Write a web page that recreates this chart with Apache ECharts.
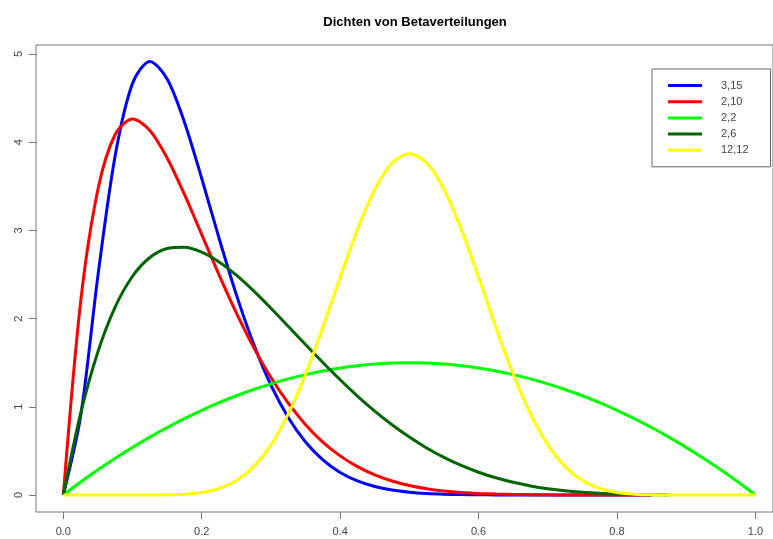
<!DOCTYPE html>
<html>
<head>
<meta charset="utf-8">
<script src="https://cdn.jsdelivr.net/npm/echarts@6/dist/echarts.min.js"></script>
<style>
html,body{margin:0;padding:0;background:#fff;}
#chart{width:773px;height:539px;}
</style>
</head>
<body>
<div id="chart"></div>
<script>
var titleText = 'Dichten von Betaverteilungen';
var seriesNames = ['3,15', '2,10', '2,2', '2,6', '12,12'];
var seriesColors = ['#0000FF', '#FF0000', '#00FF00', '#006400', '#FFFF00'];
var xTicks = [0, 0.2, 0.4, 0.6, 0.8, 1.0];
var yTicks = [0, 1, 2, 3, 4, 5];

var xs = [0, 0.025, 0.05, 0.075, 0.1, 0.125, 0.15, 0.175, 0.2, 0.225, 0.25, 0.275, 0.3, 0.325, 0.35, 0.375, 0.4, 0.425, 0.45, 0.475, 0.5,
  0.525, 0.55, 0.575, 0.6, 0.625, 0.65, 0.675, 0.7, 0.725, 0.75, 0.775, 0.8, 0.825, 0.85, 0.875, 0.9, 0.925, 0.95, 0.975, 1.0];

var beta_3_15 = [0, 0.8945, 2.4873, 3.8525, 4.6669, 4.9160, 4.7171, 4.2271, 3.5888, 2.9121, 2.2718, 1.7104, 1.2454, 0.8785, 0.6008, 0.3983, 0.2558, 0.1592, 0.0958, 0.0556, 0.0311,
  0.0167, 0.0086, 0.0042, 0.0020, 0.0009, 0.0004, 0.0002, 0.0001, 0, 0, 0, 0, 0, 0];
var beta_2_10 = [0, 2.1897, 3.4664, 4.0901, 4.2616, 4.1339, 3.8217, 3.4082, 2.9528, 2.4961, 2.0648, 1.6740, 1.3317, 1.0402, 0.7974, 0.6003, 0.4434, 0.3213, 0.2280, 0.1583, 0.1074,
  0.0711, 0.0458, 0.0286, 0.0173, 0.0101, 0.0056, 0.0030, 0.0015, 0.0007, 0.0003, 0.0001, 0, 0, 0];
var beta_2_2 = [0, 0.1463, 0.285, 0.4163, 0.54, 0.6563, 0.765, 0.8663, 0.96, 1.0463, 1.125, 1.1963, 1.26, 1.3163, 1.365, 1.4063, 1.44, 1.4663, 1.485, 1.4963, 1.5,
  1.4963, 1.485, 1.4663, 1.44, 1.4063, 1.365, 1.3163, 1.26, 1.1963, 1.125, 1.0463, 0.96, 0.8663, 0.765, 0.6563, 0.54, 0.4163, 0.285, 0.1463, 0];
var beta_2_6 = [0, 0.9252, 1.6249, 2.1332, 2.4801, 2.6928, 2.7954, 2.8089, 2.7525, 2.6419, 2.4917, 2.3134, 2.1177, 1.9128, 1.7056, 1.5020, 1.3064, 1.1220, 0.9512, 0.7957, 0.6563,
  0.5332, 0.4263, 0.3349, 0.2580, 0.1947, 0.1434, 0.1028, 0.0714, 0.0476, 0.0308, 0.0188, 0.0108, 0.0057, 0.0027, 0.0011];
var beta_12_12 = [0, 0, 0, 0, 0.0001, 0.0004, 0.0023, 0.0092, 0.0286, 0.0735, 0.1634, 0.3211, 0.5684, 0.9189, 1.3709, 1.9020, 2.4691, 3.0118, 3.4635, 3.7633, 3.8684,
  3.7633, 3.4635, 3.0118, 2.4691, 1.9020, 1.3709, 0.9189, 0.5684, 0.3211, 0.1634, 0.0735, 0.0286, 0.0092, 0.0023, 0.0004, 0.0001, 0, 0, 0, 0];

var seriesValues = [beta_3_15, beta_2_10, beta_2_2, beta_2_6, beta_12_12];

function pairs(vals) {
  var out = [];
  for (var i = 0; i < vals.length; i++) out.push([xs[i], vals[i]]);
  return out;
}

var chart = echarts.init(document.getElementById('chart'), null, {renderer: 'canvas'});
var series = seriesNames.map(function (name, i) {
  return {
    name: name,
    type: 'line',
    data: pairs(seriesValues[i]),
    symbol: 'none',
    smooth: 0.3,
    lineStyle: {color: seriesColors[i], width: 3},
    itemStyle: {color: seriesColors[i]},
    z: 2 + i,
    animation: false
  };
});

chart.setOption({
  animation: false,
  backgroundColor: '#ffffff',
  title: {
    text: titleText,
    left: 410,
    textAlign: 'center',
    top: 11,
    textStyle: {fontFamily: 'Liberation Sans, Arial, sans-serif', fontSize: 13, fontWeight: 'bold', color: '#000'}
  },
  legend: {
    data: seriesNames,
    orient: 'vertical',
    left: 652,
    top: 69,
    icon: 'rect',
    itemWidth: 34,
    itemHeight: 3,
    itemGap: 5.2,
    padding: [11, 22, 11, 16],
    borderColor: '#666',
    borderWidth: 1,
    backgroundColor: '#fff',
    textStyle: {fontFamily: 'Liberation Sans, Arial, sans-serif', fontSize: 11, color: '#444', padding: [0, 0, 0, 14]}
  },
  grid: {
    left: 36, top: 45, right: 0, bottom: 27,
    show: true, borderColor: '#777', borderWidth: 1, backgroundColor: 'transparent'
  },
  xAxis: {
    type: 'value',
    min: -0.0395,
    max: 1.0255,
    position: 'bottom',
    axisLine: {show: false, onZero: false},
    splitLine: {show: false},
    axisTick: {show: true, inside: false, length: 7, customValues: xTicks, lineStyle: {color: '#777'}},
    axisLabel: {
      customValues: xTicks, margin: 14,
      formatter: function (v) { return v.toFixed(1); },
      fontFamily: 'Liberation Sans, Arial, sans-serif', fontSize: 11, color: '#444'
    }
  },
  yAxis: {
    type: 'value',
    min: -0.193,
    max: 5.102,
    position: 'left',
    axisLine: {show: false, onZero: false},
    splitLine: {show: false},
    axisTick: {show: true, inside: false, length: 7, customValues: yTicks, lineStyle: {color: '#777'}},
    axisLabel: {
      customValues: yTicks, margin: 12, rotate: 90,
      formatter: function (v) { return String(v); },
      fontFamily: 'Liberation Sans, Arial, sans-serif', fontSize: 11, color: '#444'
    }
  },
  series: series
});
</script>
</body>
</html>
